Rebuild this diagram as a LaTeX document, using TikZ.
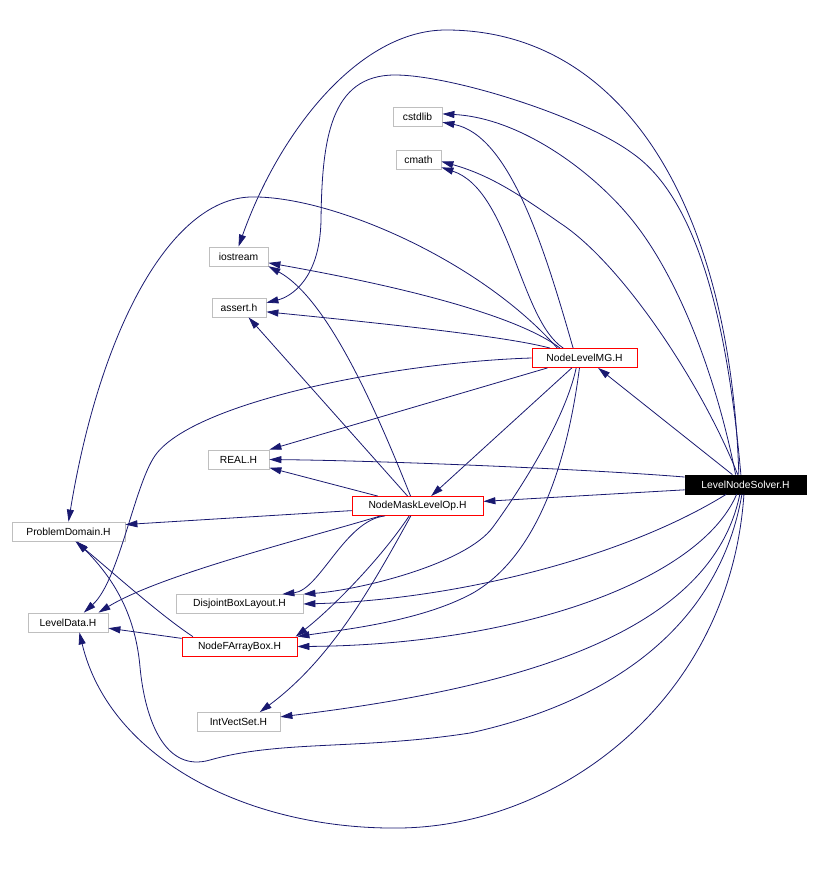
\documentclass[tikz,border=0pt]{standalone}
\usepackage{fontspec}
\setmainfont{Liberation Sans}
\usetikzlibrary{arrows.meta}
\definecolor{kante}{RGB}{25,25,112}
\definecolor{rahmen}{RGB}{191,191,191}

\begin{document}
\begin{tikzpicture}[
  x=1pt, y=-1pt,
  font=\fontsize{10.3}{12}\selectfont,
  hdr/.style={draw=rahmen, line width=0.8pt, minimum height=19pt, inner sep=0pt},
  hdrr/.style={hdr, draw=red},
  wurzel/.style={hdr, draw=black, fill=black, text=white},
  dep/.style={-{Triangle[length=12pt, width=7pt]}, draw=kante, line width=0.8pt}
]
\useasboundingbox (0,0) rectangle (818,872);

% Header-Dateien
\node[hdr, minimum width=49pt]   (cstdlib)  at (417.5,116.5) {cstdlib};
\node[hdr, minimum width=45pt]   (cmath)    at (418.5,159.5) {cmath};
\node[hdr, minimum width=59pt]   (iostream) at (238.5,256.5) {iostream};
\node[hdr, minimum width=54pt]   (assert)   at (239,307.5)   {assert.h};
\node[hdrr, minimum width=105pt] (nlmg)     at (584.5,358)   {NodeLevelMG.H};
\node[hdr, minimum width=61pt]   (real)     at (238.5,459.5) {REAL.H};
\node[wurzel, minimum width=121pt] (lns)    at (745.5,484.5) {LevelNodeSolver.H};
\node[hdrr, minimum width=131pt] (nmlo)     at (417.5,506)   {NodeMaskLevelOp.H};
\node[hdr, minimum width=113pt]  (pd)       at (68.5,531.5)  {ProblemDomain.H};
\node[hdr, minimum width=127pt]  (dbl)      at (239.5,604)   {DisjointBoxLayout.H};
\node[hdr, minimum width=80pt]   (ld)       at (68,622.5)    {LevelData.H};
\node[hdrr, minimum width=115pt] (nfab)     at (239.5,646.5) {NodeFArrayBox.H};
\node[hdr, minimum width=83pt]   (ivs)      at (238.5,722)   {IntVectSet.H};

% LevelNodeSolver.H
\draw[dep] (lns.124) .. controls (730,200) and (620,30) .. (446,30)
  .. controls (360,30) and (280,130) .. (iostream.north);
\draw[dep] (lns.115) .. controls (728,330) and (700,200) .. (632,153)
  .. controls (580,115) and (450,75) .. (395,75)
  .. controls (330,75) and (322,140) .. (321,220)
  .. controls (320,280) and (290,297) .. (assert.10);
\draw[dep] (lns.135) .. controls (715,370) and (675,270) .. (628,215)
  .. controls (590,170) and (520,118) .. (cstdlib.6);
\draw[dep] (lns.128) .. controls (700,380) and (620,262) .. (560,223)
  .. controls (520,195) and (490,175) .. (cmath.-5);
\draw[dep] (lns.143) -- (nlmg.-36);
\draw[dep] (lns.173) .. controls (600,470) and (400,461) .. (real.east);
\draw[dep] (lns.185) -- (nmlo.4);
\draw[dep] (lns.207) .. controls (620,560) and (450,600) .. (dbl.east);
\draw[dep] (lns.228) .. controls (700,580) and (520,645) .. (nfab.east);
\draw[dep] (lns.240) .. controls (710,640) and (500,690) .. (ivs.7);
\draw[dep] (lns.250) .. controls (720,620) and (620,700) .. (470,733)
  .. controls (360,750) and (280,740) .. (210,760)
  .. controls (165,773) and (145,720) .. (140,667)
  .. controls (135,610) and (110,575) .. (pd.-50);
\draw[dep] (lns.261) .. controls (730,700) and (560,826) .. (400,828)
  .. controls (250,830) and (110,760) .. (ld.-41);

% NodeLevelMG.H
\draw[dep] (nlmg.139) .. controls (545,250) and (510,135) .. (cstdlib.-13);
\draw[dep] (nlmg.155) .. controls (520,320) and (510,190) .. (cmath.-19);
\draw[dep] (nlmg.158) .. controls (530,325) and (450,295) .. (iostream.-12);
\draw[dep] (nlmg.164) .. controls (520,340) and (450,330) .. (assert.-9);
\draw[dep] (nlmg.160) .. controls (480,260) and (330,195) .. (250,197)
  .. controls (170,200) and (100,330) .. (pd.north);
\draw[dep] (nlmg.west) .. controls (400,362) and (200,400) .. (157,453)
  .. controls (135,480) and (120,580) .. (ld.32);
\draw[dep] (nlmg.195.5) -- (real.north east);
\draw[dep] (nlmg.218) -- (nmlo.36);
\draw[dep] (nlmg.230) .. controls (565,420) and (520,490) .. (493,527)
  .. controls (466,564) and (360,590) .. (dbl.north east);
\draw[dep] (nlmg.243) .. controls (565,480) and (530,560) .. (473,593)
  .. controls (420,622) and (340,630) .. (nfab.north east);

% NodeMaskLevelOp.H
\draw[dep] (nmlo.125) .. controls (380,420) and (330,300) .. (iostream.-18);
\draw[dep] (nmlo.135) -- (assert.-46);
\draw[dep] (nmlo.166) -- (real.-15);
\draw[dep] (nmlo.184) -- (pd.7);
\draw[dep] (nmlo.195) .. controls (300,540) and (160,575) .. (ld.18);
\draw[dep] (nmlo.197) .. controls (345,520) and (320,590) .. (dbl.13);
\draw[dep] (nmlo.230) .. controls (380,560) and (330,610) .. (nfab.10);
\draw[dep] (nmlo.236) .. controls (370,590) and (330,660) .. (ivs.25);

% NodeFArrayBox.H
\draw[dep] (nfab.172) -- (ld.-8);
\draw[dep] (nfab.168) .. controls (160,615) and (110,570) .. (pd.-55);

\end{tikzpicture}
\end{document}
